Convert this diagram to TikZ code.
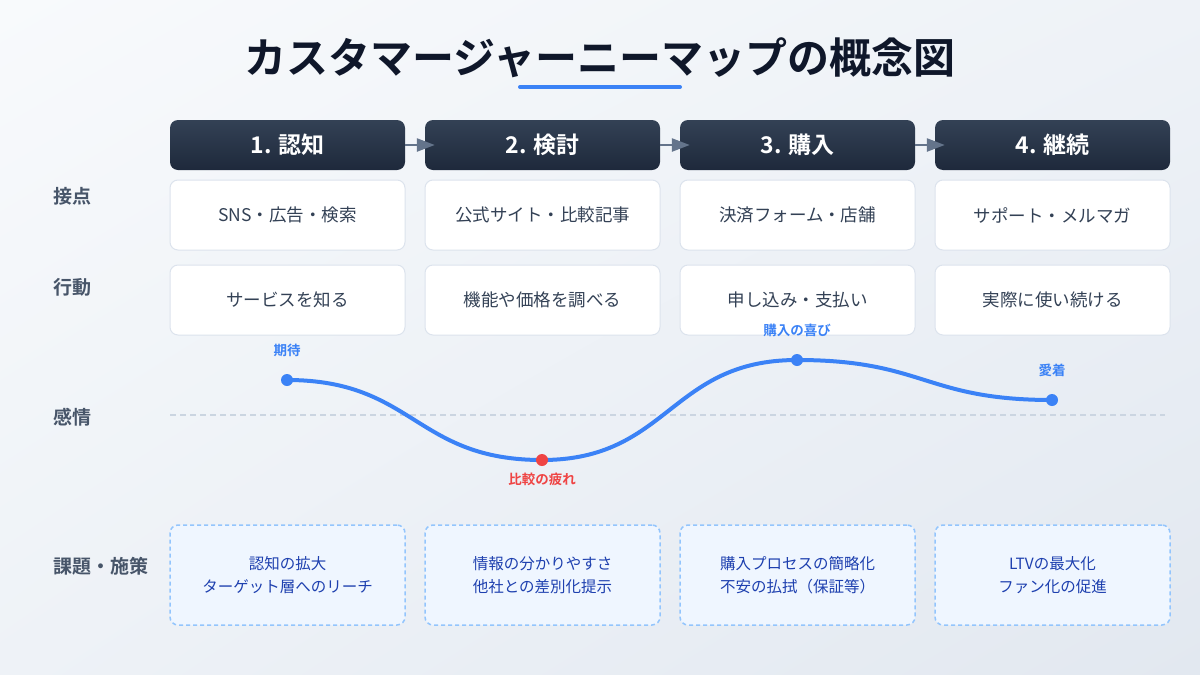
\documentclass[tikz,border=0pt]{standalone}
\usepackage{fontspec}
\setmainfont{Noto Sans CJK JP}[BoldFont={Noto Sans CJK JP Bold}]
\usetikzlibrary{arrows.meta,shadings}
\definecolor{bgA}{HTML}{F8FAFC}
\definecolor{bgB}{HTML}{EEF2F7}
\definecolor{bgC}{HTML}{E2E8F0}
\definecolor{ink}{HTML}{0F172A}
\definecolor{navyTop}{HTML}{334155}
\definecolor{navyBot}{HTML}{1E293B}
\definecolor{slate}{HTML}{475569}
\definecolor{boxtext}{HTML}{334155}
\definecolor{boxline}{HTML}{DCE3ED}
\definecolor{arrowgray}{HTML}{64748B}
\definecolor{accent}{HTML}{3B82F6}
\definecolor{alert}{HTML}{EF4444}
\definecolor{issuefill}{HTML}{EFF6FF}
\definecolor{issueline}{HTML}{93C5FD}
\definecolor{issuetext}{HTML}{1E40AF}
\definecolor{zeroline}{HTML}{CBD5E1}
\tikzstyle{phase}=[shape=rectangle,rounded corners=8pt,minimum width=235pt,minimum height=50pt,top color=navyTop,bottom color=navyBot,draw=none,text=white,font=\bfseries\fontsize{23}{28}\selectfont]
\tikzstyle{cell}=[shape=rectangle,rounded corners=8pt,minimum width=235pt,minimum height=70pt,fill=white,draw=boxline,line width=1pt,text=boxtext,font=\fontsize{17.5}{21}\selectfont]
\tikzstyle{issue}=[shape=rectangle,rounded corners=8pt,minimum width=235pt,minimum height=100pt,fill=issuefill,draw=issueline,line width=1.5pt,dash pattern=on 4pt off 3pt,text=issuetext,align=center,font=\fontsize{15.5}{23}\selectfont]
\tikzstyle{rowlabel}=[anchor=west,text=slate,font=\bfseries\fontsize{19}{23}\selectfont]
\tikzstyle{flow}=[arrowgray,line width=2.5pt,-{Triangle[length=18pt,width=13pt]},shorten >=-10pt]
\tikzstyle{mood}=[accent,line width=4pt,line cap=round]
\tikzstyle{dot}=[shape=circle,inner sep=0pt,minimum size=12pt,fill=accent]
\tikzstyle{moodlabel}=[text=accent,font=\bfseries\fontsize{13.5}{16}\selectfont]

\begin{document}
\begin{tikzpicture}[x=1pt,y=-1pt]
% background
\shade[upper left=bgA,upper right=bgB,lower left=bgB,lower right=bgC] (0,0) rectangle (1200,675);
\useasboundingbox (0,0) rectangle (1200,675);
% title
\node[text=ink,font=\bfseries\fontsize{42}{50}\selectfont] (title) at (600,58) {カスタマージャーニーマップの概念図};
\coordinate (ulA) at (520,87);
\coordinate (ulB) at (680,87);
\draw[accent,line width=4pt,line cap=round] (ulA) -- (ulB);
% row labels
\node[rowlabel] (lTouch) at (50,196) {接点};
\node[rowlabel] (lAction) at (50,287) {行動};
\node[rowlabel] (lMood) at (50,417) {感情};
\node[rowlabel] (lIssue) at (50,566) {課題・施策};
% phases
\node[phase] (p1) at (287.5,145) {1. 認知};
\node[phase] (p2) at (542.5,145) {2. 検討};
\node[phase] (p3) at (797.5,145) {3. 購入};
\node[phase] (p4) at (1052.5,145) {4. 継続};
\draw[flow] (p1) -- (p2);
\draw[flow] (p2) -- (p3);
\draw[flow] (p3) -- (p4);
% touchpoints
\node[cell] (t1) at (287.5,215) {SNS・広告・検索};
\node[cell] (t2) at (542.5,215) {公式サイト・比較記事};
\node[cell] (t3) at (797.5,215) {決済フォーム・店舗};
\node[cell] (t4) at (1052.5,215) {サポート・メルマガ};
% actions
\node[cell] (a1) at (287.5,300) {サービスを知る};
\node[cell] (a2) at (542.5,300) {機能や価格を調べる};
\node[cell] (a3) at (797.5,300) {申し込み・支払い};
\node[cell] (a4) at (1052.5,300) {実際に使い続ける};
% emotion curve
\coordinate (zeroA) at (170,415);
\coordinate (zeroB) at (1165,415);
\draw[zeroline,line width=1.5pt,dash pattern=on 6pt off 4pt] (zeroA) -- (zeroB);
\coordinate (m1) at (287,380);
\coordinate (m2) at (542,460);
\coordinate (m3) at (797,360);
\coordinate (m4) at (1052,400);
\draw[mood] (m1) .. controls +(127,0) and +(-127,0) .. (m2)
    .. controls +(127,0) and +(-127,0) .. (m3)
    .. controls +(127,0) and +(-127,0) .. (m4);
\node[dot] (d1) at (m1) {};
\node[dot,fill=alert] (d2) at (m2) {};
\node[dot] (d3) at (m3) {};
\node[dot] (d4) at (m4) {};
\node[moodlabel] (e1) at (287,350) {期待};
\node[moodlabel,text=alert] (e2) at (542,479) {比較の疲れ};
\node[moodlabel] (e3) at (797,330) {購入の喜び};
\node[moodlabel] (e4) at (1052,370) {愛着};
% issues
\node[issue] (i1) at (287.5,575) {認知の拡大\\ターゲット層へのリーチ};
\node[issue] (i2) at (542.5,575) {情報の分かりやすさ\\他社との差別化提示};
\node[issue] (i3) at (797.5,575) {購入プロセスの簡略化\\不安の払拭（保証等）};
\node[issue] (i4) at (1052.5,575) {LTVの最大化\\ファン化の促進};
\end{tikzpicture}
\end{document}
